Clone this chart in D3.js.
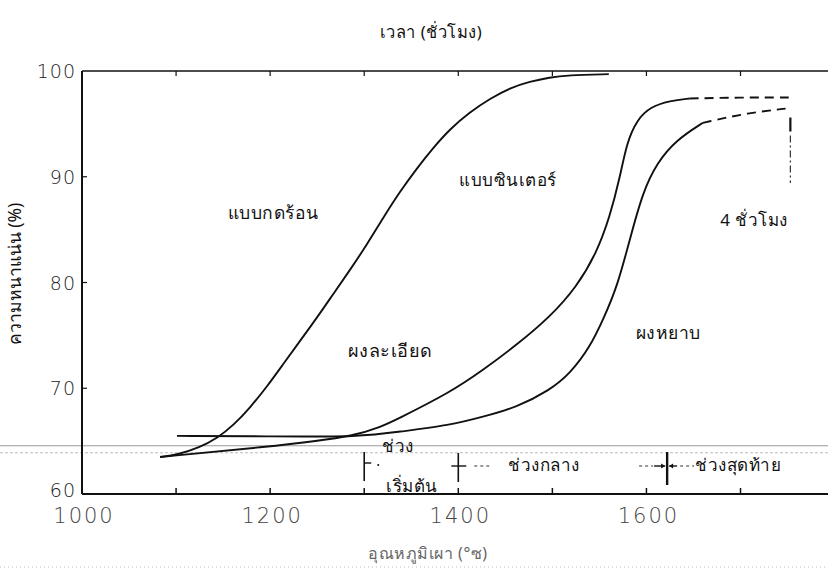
<!DOCTYPE html>
<html>
<head>
<meta charset="utf-8">
<script src="https://cdn.jsdelivr.net/npm/d3@7"></script>
<style>
  body { margin: 0; background: #fff; }
  svg { display: block; }
  .tick-num { font-family: "DejaVu Sans", sans-serif; font-weight: 200; fill: #222; }
  .thai { font-family: "Noto Sans", "DejaVu Sans", sans-serif; fill: #111; }
</style>
</head>
<body>
<div class="chart"></div>
<script>
// temperature (°C) / relative density (%)
var hotPressTemp = [1083, 1101, 1125, 1144, 1161, 1179, 1197, 1214, 1232, 1250, 1267, 1285, 1303, 1320, 1338, 1356, 1373, 1391, 1412, 1434, 1455, 1476, 1497, 1516, 1560];
var hotPressDens = [63.5, 63.7, 64.4, 65.3, 66.5, 68.2, 70.2, 72.3, 74.5, 76.7, 78.9, 81.2, 83.6, 86.1, 88.6, 90.8, 92.7, 94.5, 96.1, 97.4, 98.4, 99.0, 99.4, 99.6, 99.7];

var fineTemp = [1083, 1189, 1296, 1338, 1391, 1426, 1462, 1497, 1526, 1547, 1561, 1572, 1579, 1590, 1604, 1625, 1646];
var fineDens = [63.5, 64.4, 65.4, 67.2, 69.6, 71.7, 74.1, 76.7, 79.6, 82.8, 86.2, 90.0, 93.2, 95.4, 96.6, 97.2, 97.4];
var fineDashTemp = [1646, 1700, 1753];
var fineDashDens = [97.4, 97.5, 97.5];

var coarseTemp = [1101, 1200, 1296, 1338, 1391, 1426, 1462, 1497, 1519, 1540, 1554, 1569, 1583, 1596, 1611, 1632, 1660];
var coarseDens = [65.5, 65.45, 65.4, 65.9, 66.5, 67.3, 68.2, 69.8, 71.4, 73.9, 76.5, 79.6, 84.3, 88.5, 91.3, 93.5, 95.1];
var coarseDashTemp = [1660, 1705, 1753];
var coarseDashDens = [95.1, 96.0, 96.5];

var hoursLineTemp = 1753;
var hoursLineDens = [95.6, 89.4];

var xTicks = [1100, 1200, 1300, 1400, 1500, 1600, 1700];
var xLabels = [1000, 1200, 1400, 1600];
var yLabels = [100, 90, 80, 70, 60];
var stageTemps = [1300, 1400, 1622];

var w = 828;
var h = 579;

var x = d3.scaleLinear().domain([1000, 1793]).range([82, 828]);
var y = d3.scaleLinear().domain([60, 100]).range([494, 71]);

var svg = d3.select(".chart").append("svg")
  .attr("width", w)
  .attr("height", h);

// scan artefacts: two faint horizontal lines and dotted rule at the bottom
svg.append("line")
  .attr("x1", 0).attr("x2", w)
  .attr("y1", y(64.56)).attr("y2", y(64.56))
  .attr("stroke", "#999").attr("stroke-width", 1);
svg.append("line")
  .attr("x1", 0).attr("x2", w)
  .attr("y1", y(63.9)).attr("y2", y(63.9))
  .attr("stroke", "#bbb").attr("stroke-width", 1)
  .attr("stroke-dasharray", "3,2");
svg.append("line")
  .attr("x1", 0).attr("x2", w)
  .attr("y1", 567).attr("y2", 567)
  .attr("stroke", "#bbb").attr("stroke-width", 1)
  .attr("stroke-dasharray", "1,3");

// frame: left axis, bottom axis, top line
svg.append("line")
  .attr("x1", x(1000)).attr("x2", x(1000))
  .attr("y1", y(100)).attr("y2", y(60))
  .attr("stroke", "#111").attr("stroke-width", 2);
svg.append("line")
  .attr("x1", x(1000)).attr("x2", w)
  .attr("y1", y(60)).attr("y2", y(60))
  .attr("stroke", "#111").attr("stroke-width", 2);
svg.append("line")
  .attr("x1", x(1000)).attr("x2", w)
  .attr("y1", y(100)).attr("y2", y(100))
  .attr("stroke", "#111").attr("stroke-width", 1.6);

// ticks
svg.selectAll(".btick")
  .data(xTicks)
  .enter()
  .append("line")
  .attr("x1", function(d) { return x(d); })
  .attr("x2", function(d) { return x(d); })
  .attr("y1", y(60)).attr("y2", y(60) - 6)
  .attr("stroke", "#111").attr("stroke-width", 1.5);
svg.selectAll(".ttick")
  .data(xTicks)
  .enter()
  .append("line")
  .attr("x1", function(d) { return x(d); })
  .attr("x2", function(d) { return x(d); })
  .attr("y1", y(100)).attr("y2", y(100) + 5)
  .attr("stroke", "#111").attr("stroke-width", 1.2);
svg.selectAll(".ytick")
  .data([90, 80, 70])
  .enter()
  .append("line")
  .attr("x1", x(1000)).attr("x2", x(1000) + 5)
  .attr("y1", function(d) { return y(d); })
  .attr("y2", function(d) { return y(d); })
  .attr("stroke", "#111").attr("stroke-width", 1.2);

// tick labels
svg.selectAll(".xlab")
  .data(xLabels)
  .enter()
  .append("text")
  .attr("class", "tick-num")
  .attr("x", function(d) { return x(d) + 2; })
  .attr("y", 523)
  .attr("text-anchor", "middle")
  .style("font-size", "21px")
  .style("letter-spacing", "2px")
  .style("fill", "#444")
  .text(function(d) { return d; });

svg.selectAll(".ylab")
  .data(yLabels)
  .enter()
  .append("text")
  .attr("class", "tick-num")
  .attr("x", 76)
  .attr("y", function(d) { return y(d) + 7 - (d === 60 ? 4 : 0); })
  .attr("text-anchor", "end")
  .style("font-size", "19px")
  .style("letter-spacing", "1px")
  .text(function(d) { return d; });

// curves
var line = d3.line()
  .x(function(d) { return x(d[0]); })
  .y(function(d) { return y(d[1]); })
  .curve(d3.curveBasis);

function pairs(a, b) { return a.map(function(t, i) { return [t, b[i]]; }); }

function curve(tt, dd, dash) {
  var p = svg.append("path")
    .datum(pairs(tt, dd))
    .attr("d", line)
    .attr("fill", "none")
    .attr("stroke", "#111")
    .attr("stroke-width", 1.9);
  if (dash) p.attr("stroke-dasharray", dash);
}

curve(hotPressTemp, hotPressDens);
curve(fineTemp, fineDens);
curve(coarseTemp, coarseDens);
curve(fineDashTemp, fineDashDens, "9,6");
curve(coarseDashTemp, coarseDashDens, "9,6");

// 4-hour marker
svg.append("line")
  .attr("x1", x(hoursLineTemp)).attr("x2", x(hoursLineTemp))
  .attr("y1", y(hoursLineDens[0])).attr("y2", y(hoursLineDens[0]) + 14)
  .attr("stroke", "#111").attr("stroke-width", 2.2);
svg.append("line")
  .attr("x1", x(hoursLineTemp)).attr("x2", x(hoursLineTemp))
  .attr("y1", y(hoursLineDens[0]) + 18).attr("y2", y(hoursLineDens[1]))
  .attr("stroke", "#333").attr("stroke-width", 1.2)
  .attr("stroke-dasharray", "7,3,2,3");

// sintering stage markers
var sy = 466;
// initial stage
svg.append("line")
  .attr("x1", x(stageTemps[0])).attr("x2", x(stageTemps[0]))
  .attr("y1", 452).attr("y2", 481)
  .attr("stroke", "#111").attr("stroke-width", 1.6);
svg.append("line")
  .attr("x1", x(stageTemps[0])).attr("x2", x(stageTemps[0]) + 7)
  .attr("y1", 463).attr("y2", 463)
  .attr("stroke", "#111").attr("stroke-width", 1.4);
svg.append("circle")
  .attr("cx", x(stageTemps[0]) + 14).attr("cy", 465).attr("r", 1)
  .attr("fill", "#111");
// intermediate stage
svg.append("line")
  .attr("x1", x(stageTemps[1])).attr("x2", x(stageTemps[1]))
  .attr("y1", 453).attr("y2", 482)
  .attr("stroke", "#111").attr("stroke-width", 1.6);
svg.append("line")
  .attr("x1", x(stageTemps[1]) - 7).attr("x2", x(stageTemps[1]) + 8)
  .attr("y1", sy).attr("y2", sy)
  .attr("stroke", "#111").attr("stroke-width", 1.4);
svg.append("line")
  .attr("x1", x(stageTemps[1]) + 16).attr("x2", x(stageTemps[1]) + 34)
  .attr("y1", sy).attr("y2", sy)
  .attr("stroke", "#333").attr("stroke-width", 1)
  .attr("stroke-dasharray", "3,3");
// final stage
svg.append("line")
  .attr("x1", x(stageTemps[2])).attr("x2", x(stageTemps[2]))
  .attr("y1", 452).attr("y2", 485)
  .attr("stroke", "#111").attr("stroke-width", 2.4);
svg.append("line")
  .attr("x1", x(stageTemps[2]) - 28).attr("x2", x(stageTemps[2]) - 14)
  .attr("y1", sy).attr("y2", sy)
  .attr("stroke", "#333").attr("stroke-width", 1)
  .attr("stroke-dasharray", "3,3");
svg.append("line")
  .attr("x1", x(stageTemps[2]) - 13).attr("x2", x(stageTemps[2]) - 2)
  .attr("y1", sy).attr("y2", sy)
  .attr("stroke", "#111").attr("stroke-width", 1.4);
svg.append("path")
  .attr("d", "M" + (x(stageTemps[2]) - 2) + "," + sy + "l-4,-2.5v5z")
  .attr("fill", "#111");
svg.append("line")
  .attr("x1", x(stageTemps[2]) + 2).attr("x2", x(stageTemps[2]) + 10)
  .attr("y1", sy).attr("y2", sy)
  .attr("stroke", "#111").attr("stroke-width", 1.4);
svg.append("path")
  .attr("d", "M" + (x(stageTemps[2]) + 2) + "," + sy + "l4,-2.5v5z")
  .attr("fill", "#111");
svg.append("line")
  .attr("x1", x(stageTemps[2]) + 13).attr("x2", x(stageTemps[2]) + 27)
  .attr("y1", sy).attr("y2", sy)
  .attr("stroke", "#333").attr("stroke-width", 1)
  .attr("stroke-dasharray", "3,3");

// texts
function label(tx, ty, str, size, fill) {
  svg.append("text")
    .attr("class", "thai")
    .attr("x", tx).attr("y", ty)
    .attr("text-anchor", "middle")
    .style("font-size", size + "px")
    .style("letter-spacing", "0.5px")
    .style("fill", fill || "#111")
    .text(str);
}

label(431, 38, "เวลา (ชั่วโมง)", 16.5);
label(273, 219, "แบบกดร้อน", 17.5);
label(508, 186, "แบบซินเตอร์", 17);
label(754, 226, "4 ชั่วโมง", 17);
label(390, 357, "ผงละเอียด", 18);
label(668, 339, "ผงหยาบ", 17.5);
label(398, 452, "ช่วง", 17);
label(412, 492, "เริ่มต้น", 17);
label(544, 471, "ช่วงกลาง", 17);
label(738, 471, "ช่วงสุดท้าย", 17);
label(428, 559, "อุณหภูมิเผา (°ซ)", 16, "#666");

svg.append("text")
  .attr("class", "thai")
  .attr("transform", "translate(21,274) rotate(-90)")
  .attr("text-anchor", "middle")
  .style("font-size", "17.5px")
  .text("ความหนาแน่น (%)");
</script>
</body>
</html>
